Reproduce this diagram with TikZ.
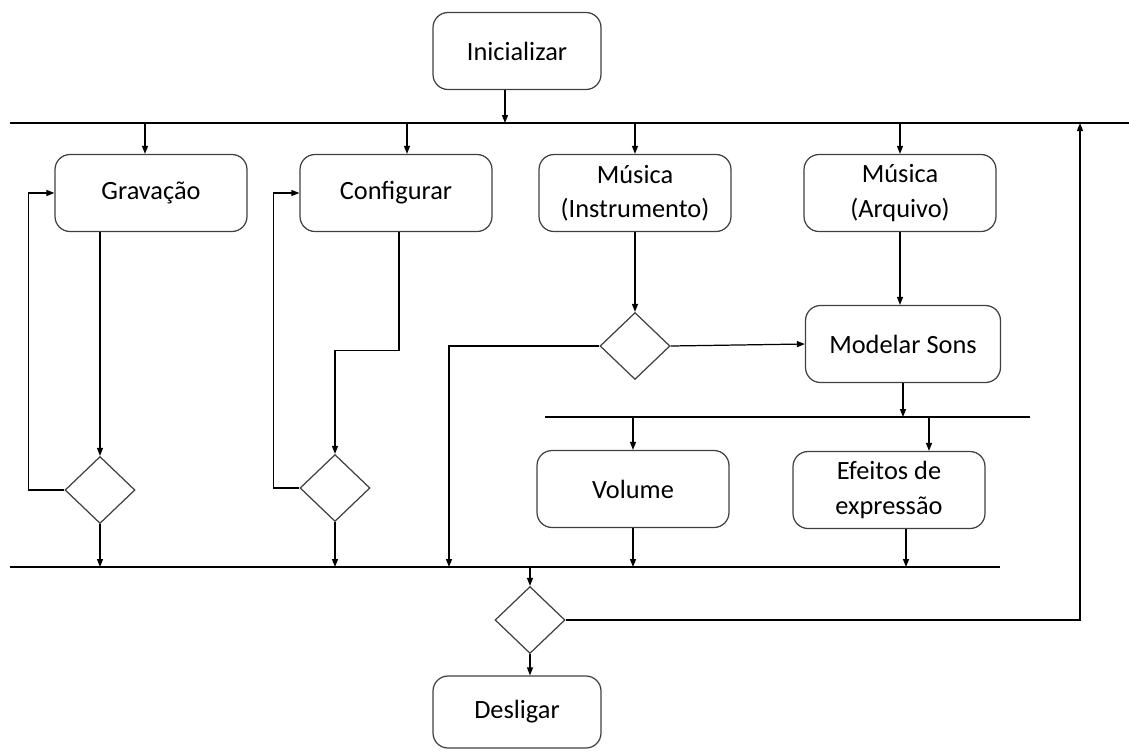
\documentclass[tikz,border=0pt]{standalone}
\usepackage{fontspec}
\setmainfont{Carlito}
\usetikzlibrary{arrows.meta,shapes.geometric}
\begin{document}
\begin{tikzpicture}[x=0.02cm, y=-0.02cm,
  box/.style={draw=black!75, line width=0.7pt, rounded corners=0.3cm, align=center, inner sep=0pt, minimum width=3.84cm, minimum height=1.54cm},
  dec/.style={draw=black!75, line width=0.7pt, diamond, inner sep=0pt, minimum width=1.4cm, minimum height=1.34cm},
  bar/.style={line width=0.8pt},
  arr/.style={line width=0.7pt, -{Triangle[length=1.6mm,width=1.2mm]}},
  every node/.style={font=\fontsize{15}{19.5}\selectfont}
]
\useasboundingbox (0,0) rectangle (1129,751);
\node[box, minimum width=3.36cm] (init) at (517,51) {Inicializar};
\node[box] (grav) at (151,193) {Gravação};
\node[box] (conf) at (396,193) {Configurar};
\node[box] (musI) at (635,193) {Música\\(Instrumento)};
\node[box] (musA) at (900,193) {Música\\(Arquivo)};
\node[box, minimum width=3.9cm] (model) at (903,344) {Modelar Sons};
\node[box] (vol) at (633,489) {Volume};
\node[box] (efe) at (889,490) {Efeitos de\\expressão};
\node[box, minimum width=3.36cm, minimum height=1.44cm] (desl) at (517,712) {Desligar};
\node[dec] (d1) at (100,490) {};
\node[dec] (d2) at (335,488) {};
\node[dec] (d3) at (635,346) {};
\node[dec] (d4) at (530,620) {};
% barras
\coordinate (topL) at (10,123);
\coordinate (topR) at (1129,123);
\coordinate (botL) at (10,567);
\coordinate (botR) at (1000,567);
\coordinate (midL) at (545,417);
\coordinate (midR) at (1030,417);
\coordinate (jI) at (449,567);
\coordinate (efeIn) at (929,417);
\coordinate (back) at (1080,123);
\draw[bar] (topL) -- (topR);
\draw[bar] (botL) -- (botR);
\draw[bar] (midL) -- (midR);
\draw[arr] ([shift={(-12,0)}]init.south) -- ([shift={(-12,0)}]init.south |- topL);
\draw[arr] ([shift={(-6,0)}]grav.north |- topL) -- ([shift={(-6,0)}]grav.north);
\draw[arr] ([shift={(11,0)}]conf.north |- topL) -- ([shift={(11,0)}]conf.north);
\draw[arr] (musI.north |- topL) -- (musI.north);
\draw[arr] (musA.north |- topL) -- (musA.north);
% gravacao
\draw[arr] (d1 |- grav.south) -- (d1.north);
\draw[arr] (d1.west) -- ++(-36,0) |- (grav.west);
\draw[arr] (d1.south) -- (d1 |- botL);
% configurar
\draw[arr] ([shift={(3,0)}]conf.south) -- ++(0,118) -| (d2.north);
\draw[arr] (d2.west) -- ++(-26,0) |- (conf.west);
\draw[arr] (d2.south) -- (d2 |- botL);
% musica
\draw[arr] (musI.south) -- (d3.north);
\draw[arr] (d3.west) -| (jI);
\draw[arr] (d3.east) -- (model.west);
\draw[arr] (musA.south) -- (musA.south |- model.north);
\draw[arr] (model.south) -- (model.south |- midL);
\draw[arr] (vol.north |- midL) -- (vol.north);
\draw[arr] (efeIn) -- (efeIn |- efe.north);
\draw[arr] (vol.south) -- (vol |- botL);
\draw[arr] ([shift={(17,0)}]efe.south) -- ([shift={(17,0)}]efe.south |- botL);
% final
\draw[arr] (d4 |- botL) -- (d4.north);
\draw[arr] (d4.south) -- (d4 |- desl.north);
\draw[arr] (d4.east) -| (back);
\end{tikzpicture}
\end{document}
